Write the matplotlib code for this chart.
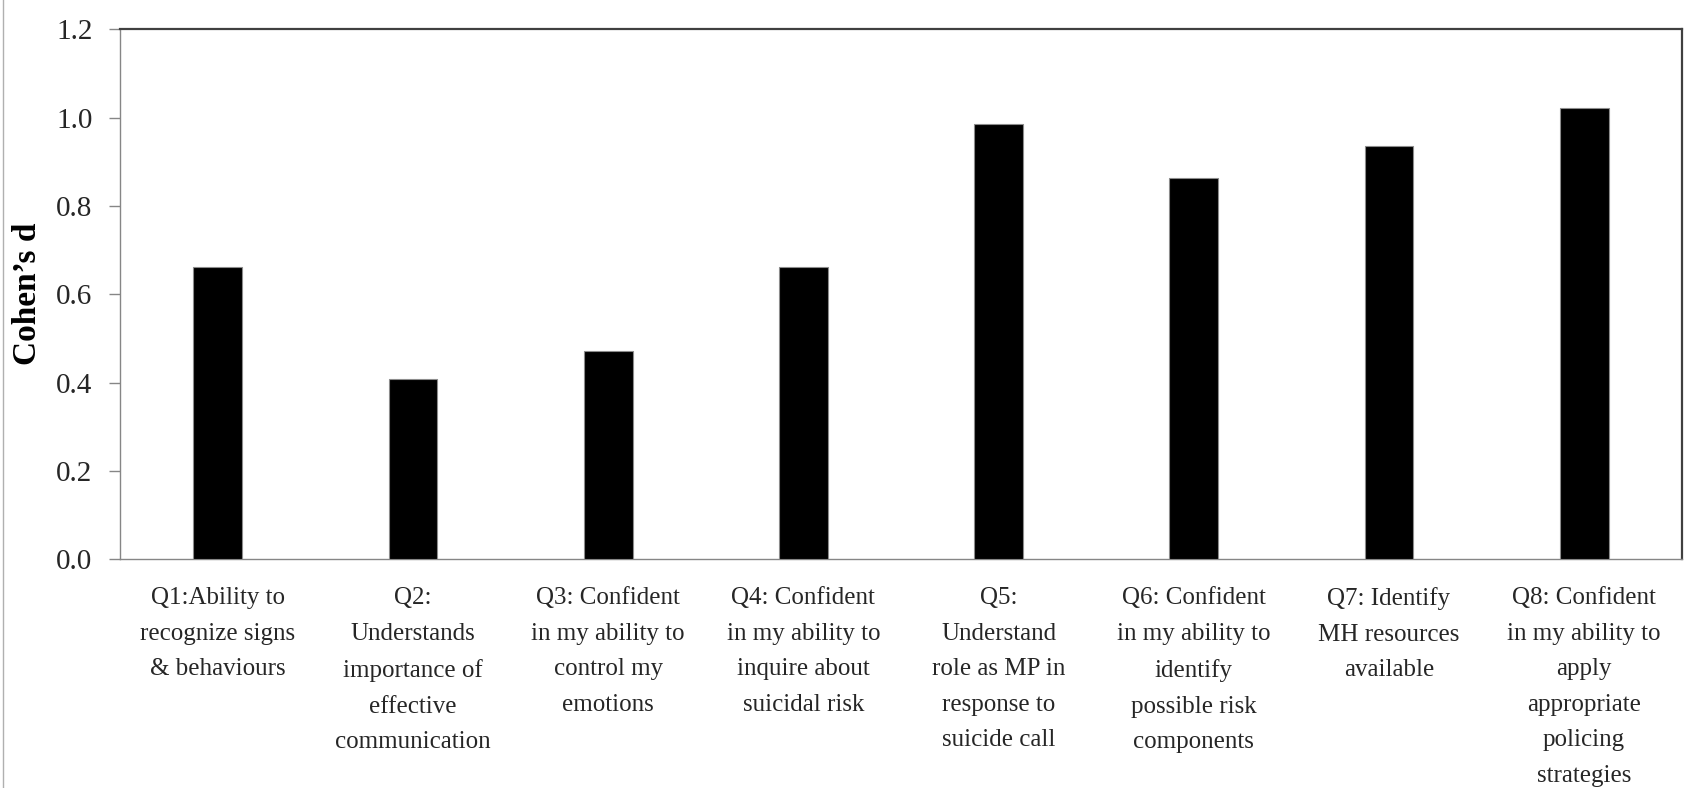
import matplotlib
matplotlib.use("Agg")
import matplotlib.pyplot as plt
from matplotlib.lines import Line2D

categories = [
    "Q1:Ability to\nrecognize signs\n& behaviours",
    "Q2:\nUnderstands\nimportance of\neffective\ncommunication",
    "Q3: Confident\nin my ability to\ncontrol my\nemotions",
    "Q4: Confident\nin my ability to\ninquire about\nsuicidal risk",
    "Q5:\nUnderstand\nrole as MP in\nresponse to\nsuicide call",
    "Q6: Confident\nin my ability to\nidentify\npossible risk\ncomponents",
    "Q7: Identify\nMH resources\navailable",
    "Q8: Confident\nin my ability to\napply\nappropriate\npolicing\nstrategies",
]
cohens_d = [0.662, 0.408, 0.471, 0.662, 0.985, 0.864, 0.935, 1.021]
yticks = [0.0, 0.2, 0.4, 0.6, 0.8, 1.0, 1.2]
ytick_labels = ["0.0", "0.2", "0.4", "0.6", "0.8", "1.0", "1.2"]
ylabel = "Cohen’s d"

W, H = 1700, 788
fig = plt.figure(figsize=(W / 100, H / 100), dpi=100)
x0, x1 = 120.3, 1681.7
ytop, ybot = 29.3, 559.3
ax = fig.add_axes([x0 / W, (H - ybot) / H, (x1 - x0) / W, (ybot - ytop) / H])

serif = ["Liberation Serif", "DejaVu Serif"]
xpos = list(range(len(categories)))
ax.bar(xpos, cohens_d, width=0.25, color="black", edgecolor="#8c8c8c", linewidth=0.8, zorder=3)

ax.set_xlim(-0.5, len(categories) - 0.5)
ax.set_ylim(0, 1.2)
ax.set_yticks(yticks)
ax.set_yticklabels(ytick_labels, family=serif, fontsize=21, color="#262626")
ax.set_xticks(xpos)
ax.set_xticklabels(categories, family=serif, fontsize=18, color="#262626", linespacing=1.8, va="top", ha="center")

ax.tick_params(axis="x", length=0, pad=20)
ax.tick_params(axis="y", length=8, width=1, color="#868686", direction="out", pad=12)

for side in ("left", "bottom"):
    ax.spines[side].set_color("#868686")
    ax.spines[side].set_linewidth(1.0)
for side in ("top", "right"):
    ax.spines[side].set_color("#404040")
    ax.spines[side].set_linewidth(1.6)

fig.text(28 / W, 1 - 294 / H, ylabel, rotation=90, ha="center", va="center",
         family=serif, fontsize=24, fontweight="bold", color="black")

fig.add_artist(Line2D([3 / W, 3 / W], [0, 1], transform=fig.transFigure, color="#b0b0b0", linewidth=1.0))

fig.savefig("out.png", dpi=100)
